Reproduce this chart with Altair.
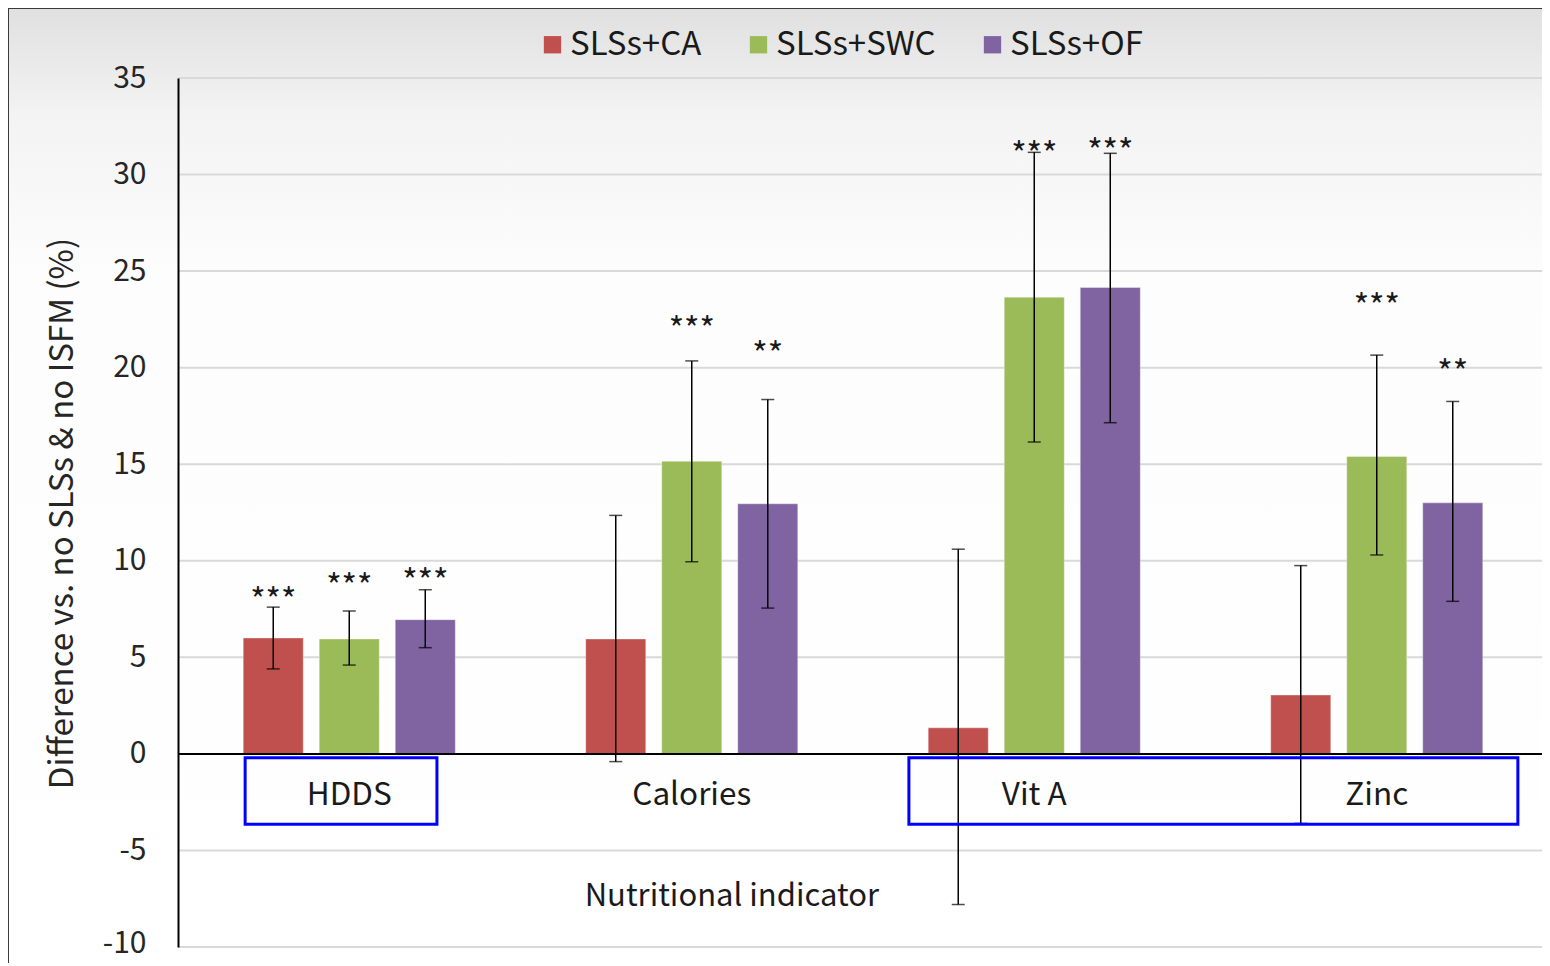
import altair as alt
import pandas as pd

categories = ["HDDS", "Calories", "Vit A", "Zinc"]
treatments = ["SLSs+CA", "SLSs+SWC", "SLSs+OF"]
colors = ["#C0504D", "#9BBB59", "#8064A2"]

mean_ca = [6.0, 5.95, 1.35, 3.05]
mean_swc = [5.95, 15.15, 23.65, 15.4]
mean_of = [6.95, 12.95, 24.15, 13.0]

low_ca = [4.4, -0.4, -7.8, -3.6]
high_ca = [7.6, 12.35, 10.6, 9.75]
low_swc = [4.6, 9.95, 16.15, 10.3]
high_swc = [7.4, 20.35, 31.15, 20.65]
low_of = [5.5, 7.55, 17.15, 7.9]
high_of = [8.5, 18.35, 31.1, 18.25]

stars_ca = ["***", "", "", ""]
stars_swc = ["***", "***", "***", "***"]
stars_of = ["***", "**", "***", "**"]
star_y_ca = [8.3, 0, 0, 0]
star_y_swc = [9.0, 22.3, 31.4, 23.5]
star_y_of = [9.25, 21.0, 31.55, 20.1]

y_ticks = [-10, -5, 0, 5, 10, 15, 20, 25, 30, 35]
label_y = -2.2
title_text = "Nutritional indicator"
title_pos = (1.617, -7.4)
# annotation boxes in category units (0..4) and y units
box_x0 = [0.196, 2.134]
box_x1 = [0.756, 3.912]
box_y0 = -0.2
box_y1 = -3.65

FONT = "Noto Sans CJK JP"
PLOT_W = 1364
RANGE_W = 1370

rows = []
for t, m, lo, hi, s, sy in [
    (treatments[0], mean_ca, low_ca, high_ca, stars_ca, star_y_ca),
    (treatments[1], mean_swc, low_swc, high_swc, stars_swc, star_y_swc),
    (treatments[2], mean_of, low_of, high_of, stars_of, star_y_of),
]:
    for i, c in enumerate(categories):
        rows.append(dict(cat=c, trt=t, mean=m[i], lo=lo[i], hi=hi[i], star=s[i], sy=sy[i]))
df = pd.DataFrame(rows)

xband = alt.Scale(paddingInner=0, paddingOuter=0, range=[0, RANGE_W])
x = alt.X("cat:N", sort=categories, axis=None, scale=xband)
xo = alt.XOffset("trt:N", sort=treatments,
                 scale=alt.Scale(paddingInner=0.21, paddingOuter=0.858))
yscale = alt.Scale(domain=[-10, 35], nice=False, zero=False)

base = alt.Chart(df)

grid = alt.Chart(pd.DataFrame({"g": y_ticks})).mark_rule(color="#d9d9d9", strokeWidth=2).encode(
    y=alt.Y("g:Q", scale=yscale,
            axis=alt.Axis(values=y_ticks, title="Difference vs. no SLSs & no ISFM (%)",
                          labelExpr="'' + datum.value",
                          labelFontSize=30, labelFont=FONT, labelColor="#262626", labelPadding=32,
                          labelOffset={"condition": {"test": "datum.value == -10", "value": -4}, "value": 0},
                          titleFontSize=33, titleFont=FONT, titleFontWeight="normal", titleColor="#262626",
                          titleX=-116, titleY=435, titleAngle=270, titleAlign="center", titleBaseline="middle",
                          ticks=False, domainColor="#000000", domainWidth=2, grid=False, zindex=1)))

bars = base.mark_bar(stroke="#ffffff", strokeOpacity=0.35, strokeWidth=1).encode(
    x=x, xOffset=xo,
    y=alt.Y("mean:Q", scale=yscale),
    color=alt.Color("trt:N", sort=treatments,
                    scale=alt.Scale(domain=treatments, range=colors),
                    legend=alt.Legend(orient="none", legendX=358, legendY=-50, direction="horizontal",
                                      title=None, symbolType="square", symbolSize=300, symbolStrokeWidth=0,
                                      labelFontSize=33, labelFont=FONT, labelColor="#1a1a1a",
                                      columnPadding=40, labelOffset=1, padding=0)),
)

zero_rule = alt.Chart(pd.DataFrame({"z": [0]})).mark_rule(color="#000000", strokeWidth=2).encode(
    y=alt.Y("z:Q", scale=yscale))

err = base.mark_rule(color="#000000", strokeWidth=1.5).encode(
    x=x, xOffset=xo, y=alt.Y("lo:Q", scale=yscale), y2="hi:Q")
cap_hi = base.mark_tick(color="#000000", thickness=1.5, size=13).encode(
    x=x, xOffset=xo, y=alt.Y("hi:Q", scale=yscale))
cap_lo = base.mark_tick(color="#000000", thickness=1.5, size=13).encode(
    x=x, xOffset=xo, y=alt.Y("lo:Q", scale=yscale))
stars = base.mark_text(fontSize=33, font=FONT, color="#1a1a1a", baseline="middle", dy=8).encode(
    x=x, xOffset=xo, y=alt.Y("sy:Q", scale=yscale), text="star:N")

labels_df = pd.DataFrame({"cat": categories, "ly": [label_y] * 4})
cat_labels = alt.Chart(labels_df).mark_text(fontSize=31.5, font=FONT, color="#1a1a1a", baseline="middle").encode(
    x=alt.X("cat:N", sort=categories, axis=None, scale=xband),
    y=alt.Y("ly:Q", scale=yscale), text="cat:N")

inner = alt.layer(bars, err, cap_hi, cap_lo, zero_rule, stars, cat_labels)

xq = alt.Scale(domain=[0, 4], nice=False, zero=False, range=[0, RANGE_W])
boxes_df = pd.DataFrame({"x0": box_x0, "x1": box_x1, "y0": [box_y0] * 2, "y1": [box_y1] * 2})
boxes = alt.Chart(boxes_df).mark_rect(fill=None, stroke="#0000FF", strokeWidth=3).encode(
    x=alt.X("x0:Q", scale=xq, axis=None), x2="x1:Q",
    y=alt.Y("y0:Q", scale=yscale), y2="y1:Q")
title_df = pd.DataFrame({"tx": [title_pos[0]], "ty": [title_pos[1]], "t": [title_text]})
xtitle = alt.Chart(title_df).mark_text(fontSize=31, font=FONT, color="#1a1a1a", baseline="middle").encode(
    x=alt.X("tx:Q", scale=xq, axis=None), y=alt.Y("ty:Q", scale=yscale), text="t:N")

# decorative background gradient and outer frame
bg = alt.Chart(pd.DataFrame({"d": [0]})).mark_rect(
    fill=alt.Gradient(gradient="linear", x1=0, y1=0, x2=0, y2=1,
                      stops=[alt.GradientStop(offset=0, color="#e0e0e0"),
                             alt.GradientStop(offset=0.1, color="#f3f3f3"),
                             alt.GradientStop(offset=0.25, color="#fdfdfd"),
                             alt.GradientStop(offset=1, color="#ffffff")]),
    stroke="#3a3a3a", strokeWidth=2).encode(
    x=alt.value(-170), x2=alt.value(1500), y=alt.value(-70), y2=alt.value(1000))

chart = alt.layer(bg, grid, inner, boxes, xtitle).resolve_scale(x="independent").properties(
    width=PLOT_W, height=869,
    autosize=alt.AutoSizeParams(type="none"),
    padding={"left": 170, "top": 70, "right": 0, "bottom": 16},
).configure_view(stroke=None)

chart.save("out.html", embed_options={"renderer": "svg", "actions": False})
